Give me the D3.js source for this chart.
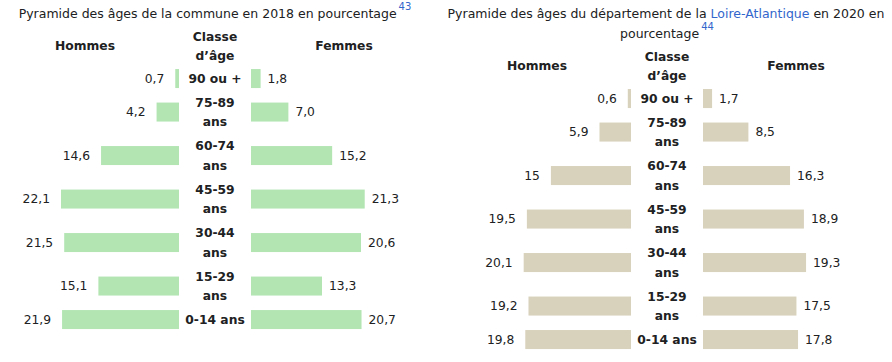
<!DOCTYPE html>
<html>
<head>
<meta charset="utf-8">
<script src="https://cdn.jsdelivr.net/npm/d3@7"></script>
<style>
	body { margin: 0; background: #fff; }
	svg { display: block; font-family: 'DejaVu Sans', sans-serif; }
</style>
</head>
<body>
<svg id="chart"></svg>
<script>
const DIMENSION = {
	width: 892,
	height: 362
};

const CONTAINER = '#chart';

// age classes, split into lines as in the table cells
const classes = [['90 ou +'], ['75-89', 'ans'], ['60-74', 'ans'], ['45-59', 'ans'], ['30-44', 'ans'], ['15-29', 'ans'], ['0-14 ans']];

const communeHommes = [0.7, 4.2, 14.6, 22.1, 21.5, 15.1, 21.9];
const communeFemmes = [1.8, 7.0, 15.2, 21.3, 20.6, 13.3, 20.7];

const deptHommes = [0.6, 5.9, 15, 19.5, 20.1, 19.2, 19.8];
const deptFemmes = [1.7, 8.5, 16.3, 18.9, 19.3, 17.5, 17.8];

const communeTitle = [[{ t: 'Pyramide des âges de la commune en 2018 en pourcentage' }, { t: '43', sup: true }]];
const deptTitle = [
	[{ t: 'Pyramide des âges du département de la ' }, { t: 'Loire-Atlantique', link: true }, { t: ' en 2020 en' }],
	[{ t: 'pourcentage' }, { t: '44', sup: true }]
];

const TEXT = '#202122';
const LINK = '#3366cc';
const FS = 12.3;

const svg = d3.select(CONTAINER)
	.attr('width', DIMENSION.width)
	.attr('height', DIMENSION.height);

const xScale = d3.scaleLinear()
	.domain([0, 22.1])
	.range([0, 118]);

const drawPyramid = (cx, shift, title, hommes, femmes, color, fmt) => {
	const g = svg.append('g');

	// title, centred by hand so the superscript counts in the width
	title.forEach((line, i) => {
		const txt = g.append('text')
			.attr('y', 18 + i * 20)
			.attr('font-size', 12.5)
			.attr('fill', TEXT);
		for (let part of line) {
			const ts = txt.append('tspan').text(part.t);
			if (part.link) ts.attr('fill', LINK);
			if (part.sup) {
				ts.attr('fill', LINK).attr('font-size', 10).attr('dy', -8).attr('dx', 2);
			}
		}
		const w = txt.node().getComputedTextLength() + 2;
		txt.attr('x', cx - w / 2);
	});

	// headers
	const hy = 45.7 + shift;
	[['Hommes', cx - 130], ['Femmes', cx + 129]].forEach(([t, x]) => {
		g.append('text')
			.attr('x', x).attr('y', hy).attr('dy', '0.35em')
			.attr('text-anchor', 'middle')
			.attr('font-size', FS).attr('font-weight', 'bold')
			.attr('fill', TEXT)
			.text(t);
	});
	['Classe', 'd’âge'].forEach((t, i) => {
		g.append('text')
			.attr('x', cx).attr('y', hy - 9.5 + i * 19).attr('dy', '0.35em')
			.attr('text-anchor', 'middle')
			.attr('font-size', FS).attr('font-weight', 'bold')
			.attr('fill', TEXT)
			.text(t);
	});

	// row layout from number of lines per class
	const rowH = classes.map(c => c.length > 1 ? 43.5 : 23.5);
	const centers = [];
	let top = 66.8 + shift;
	rowH.forEach(h => {
		centers.push(top + h / 2);
		top += h;
	});

	const inner = 36;
	const barH = 19;

	classes.forEach((lines, i) => {
		const y = centers[i];
		const wH = xScale(hommes[i]);
		const wF = xScale(femmes[i]);

		g.append('rect')
			.attr('x', cx - inner - wH).attr('y', y - barH / 2)
			.attr('width', wH).attr('height', barH)
			.attr('fill', color);
		g.append('rect')
			.attr('x', cx + inner).attr('y', y - barH / 2)
			.attr('width', wF).attr('height', barH)
			.attr('fill', color);

		g.append('text')
			.attr('x', cx - inner - wH - 11).attr('y', y).attr('dy', '0.35em')
			.attr('text-anchor', 'end')
			.attr('font-size', FS).attr('fill', TEXT)
			.text(fmt(hommes[i]));
		g.append('text')
			.attr('x', cx + inner + wF + 7).attr('y', y).attr('dy', '0.35em')
			.attr('font-size', FS).attr('fill', TEXT)
			.text(fmt(femmes[i]));

		lines.forEach((t, j) => {
			g.append('text')
				.attr('x', cx)
				.attr('y', y + (j - (lines.length - 1) / 2) * 19.5)
				.attr('dy', '0.35em')
				.attr('text-anchor', 'middle')
				.attr('font-size', FS).attr('font-weight', 'bold')
				.attr('fill', TEXT)
				.text(t);
		});
	});
};

const fmtFixed = v => d3.format('.1f')(v).replace('.', ',');
const fmtPlain = v => String(v).replace('.', ',');

drawPyramid(215, 0, communeTitle, communeHommes, communeFemmes, '#b3e5b3', fmtFixed);
drawPyramid(667, 20, deptTitle, deptHommes, deptFemmes, '#d8d1bb', fmtPlain);
</script>
</body>
</html>
